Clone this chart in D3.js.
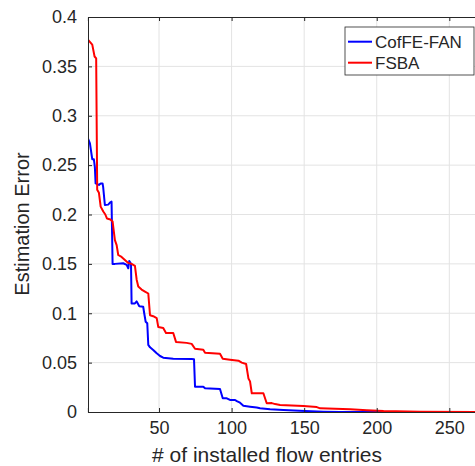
<!DOCTYPE html>
<html>
<head>
<meta charset="utf-8">
<script src="https://cdn.jsdelivr.net/npm/d3@7"></script>
<style>
  html, body { margin: 0; padding: 0; background: #fff; }
  svg { display: block; }
  text { font-family: "Liberation Sans", Arial, Helvetica, sans-serif; fill: #262626; }
</style>
</head>
<body>
<svg id="chart" width="475" height="466"></svg>
<script>
// ---- data ----
const seriesNames = ["CofFE-FAN", "FSBA"];
const seriesColors = ["#0000ff", "#ff0000"];

const coffeX = [1, 1.3, 2.4, 3.6, 4.0, 5.1, 5.8, 6.3, 8.6, 9.8, 11.1, 11.5, 12.7, 15, 16.2, 17.3, 18, 19.6, 25.3, 27.7,
  28.8, 29.5, 30.7, 31.1, 33.4, 34.6, 36.4, 39.1, 39.8, 40.8, 41.9, 42.6, 43.8, 46, 48.4, 50.7, 52.9, 59.8, 72.5, 74.1,
  74.8, 80.5, 81.7, 92, 93.9, 96.7, 98.9, 102.4, 103.6, 105.8, 108.1, 112.7, 117.3, 119.6, 126.5, 135.7, 150.7, 163.3, 174.8, 270];
const coffeY = [0.277, 0.276, 0.272, 0.260, 0.256, 0.256, 0.248, 0.2315, 0.230, 0.2315, 0.2315, 0.228, 0.2096, 0.210, 0.212, 0.213, 0.150, 0.150, 0.1506, 0.149,
  0.1455, 0.153, 0.150, 0.110, 0.110, 0.112, 0.107, 0.1066, 0.100, 0.0914, 0.0898, 0.068, 0.0655, 0.0628, 0.0594, 0.0567, 0.055, 0.054, 0.0537, 0.0535,
  0.0256, 0.0256, 0.024, 0.0233, 0.0139, 0.0139, 0.0122, 0.0122, 0.011, 0.0094, 0.0064, 0.0054, 0.0045, 0.0037, 0.0027, 0.002, 0.001, 0.0003, 0, 0];

const fsbaX = [1, 4.0, 5.6, 6.7, 7.4, 8.6, 9.8, 11.6, 13, 14.1, 16.5, 18, 19.6, 20.8, 21.9, 24.2, 26.5, 28.8, 31.1, 33.4,
  34.6, 35.7, 38, 40.3, 42.6, 43.8, 46, 48.4, 49.5, 52.9, 54.8, 59.8, 61.7, 69, 72.5, 74.8, 80.5, 81.7, 92, 93.9,
  98.9, 104.7, 107, 110, 111.6, 112.7, 113.9, 121.9, 124.2, 127.7, 130, 133.4, 149.5, 158.7, 161, 181.7, 193.2, 204.7, 230, 270];
const fsbaY = [0.377, 0.372, 0.360, 0.358, 0.225, 0.222, 0.208, 0.203, 0.200, 0.196, 0.195, 0.193, 0.174, 0.169, 0.159, 0.157, 0.154, 0.151, 0.150, 0.148,
  0.134, 0.127, 0.124, 0.122, 0.120, 0.098, 0.097, 0.095, 0.086, 0.085, 0.080, 0.080, 0.071, 0.070, 0.069, 0.064, 0.063, 0.060, 0.059, 0.054,
  0.053, 0.052, 0.050, 0.0486, 0.034, 0.031, 0.019, 0.019, 0.0088, 0.009, 0.008, 0.007, 0.006, 0.005, 0.0037, 0.0027, 0.0017, 0.001, 0.0003, 0];

const xTicks = [50, 100, 150, 200, 250];
const yTicks = [0, 0.05, 0.1, 0.15, 0.2, 0.25, 0.3, 0.35, 0.4];
const xLabel = "# of installed flow entries";
const yLabel = "Estimation Error";

// ---- layout ----
const svg = d3.select("#chart");
const pLeft = 88, pTop = 17, pBottom = 412;
const x = d3.scaleLinear().domain([1, 280]).range([87.9, 87.9 + 279 * 1.4515]);
const y = d3.scaleLinear().domain([0, 0.4]).range([pBottom, pTop]);
const pRight = x.range()[1];
const axisColor = "#262626";

svg.append("defs").append("clipPath").attr("id", "plotclip")
  .append("rect").attr("x", pLeft).attr("y", pTop).attr("width", pRight - pLeft).attr("height", pBottom - pTop);

// grid
const grid = svg.append("g");
grid.selectAll("line.gx").data(xTicks).join("line")
  .attr("x1", d => x(d)).attr("x2", d => x(d)).attr("y1", pTop).attr("y2", pBottom)
  .attr("stroke", "#e3e3e3").attr("stroke-width", 1);
grid.selectAll("line.gy").data(yTicks.filter(d => d > 0 && d < 0.4)).join("line")
  .attr("x1", pLeft).attr("x2", pRight).attr("y1", d => y(d)).attr("y2", d => y(d))
  .attr("stroke", "#e3e3e3").attr("stroke-width", 1);

// lines
const line = d3.line().x(d => x(d[0])).y(d => y(d[1]));
const series = [
  coffeX.map((v, i) => [v, coffeY[i]]),
  fsbaX.map((v, i) => [v, fsbaY[i]])
];
const plot = svg.append("g").attr("clip-path", "url(#plotclip)");
series.forEach((s, i) => {
  plot.append("path").datum(s).attr("d", line)
    .attr("fill", "none").attr("stroke", seriesColors[i]).attr("stroke-width", 2)
    .attr("stroke-linejoin", "round");
});

// axes
const xAxis = svg.append("g").attr("transform", `translate(0,${pBottom})`)
  .call(d3.axisBottom(x).tickValues(xTicks).tickSize(-4).tickPadding(9).tickFormat(d3.format("d")));
const yAxis = svg.append("g").attr("transform", `translate(${pLeft},0)`)
  .call(d3.axisLeft(y).tickValues(yTicks).tickSize(-4).tickPadding(11).tickFormat(d => d === 0 ? "0" : String(+d.toFixed(2))));
const xTop = svg.append("g").attr("transform", `translate(0,${pTop})`)
  .call(d3.axisTop(x).tickValues(xTicks).tickSize(-4).tickFormat(""));
[xAxis, yAxis, xTop].forEach(g => {
  g.select(".domain").attr("stroke", axisColor).attr("stroke-width", 1);
  g.selectAll(".tick line").attr("stroke", axisColor);
  g.selectAll(".tick text").attr("font-size", 18).attr("fill", axisColor)
    .style("font-family", '"Liberation Sans", Arial, sans-serif');
});
xAxis.selectAll(".tick text").attr("dy", "0.71em");

// axis labels
svg.append("text").attr("x", 267).attr("y", 462).attr("text-anchor", "middle")
  .attr("font-size", 21).text(xLabel);
svg.append("text").attr("transform", "translate(29,224) rotate(-90)").attr("text-anchor", "middle")
  .attr("font-size", 20).text(yLabel);

// legend
const lg = svg.append("g");
lg.append("rect").attr("x", 345).attr("y", 27).attr("width", 129).attr("height", 48)
  .attr("fill", "#fff").attr("stroke", axisColor).attr("stroke-width", 0.8);
const legY = [41.7, 62.7];
seriesNames.forEach((n, i) => {
  lg.append("line").attr("x1", 348).attr("x2", 372).attr("y1", legY[i]).attr("y2", legY[i])
    .attr("stroke", seriesColors[i]).attr("stroke-width", 2);
  lg.append("text").attr("x", 375).attr("y", legY[i] + 6).attr("font-size", 17).text(n);
});
</script>
</body>
</html>
